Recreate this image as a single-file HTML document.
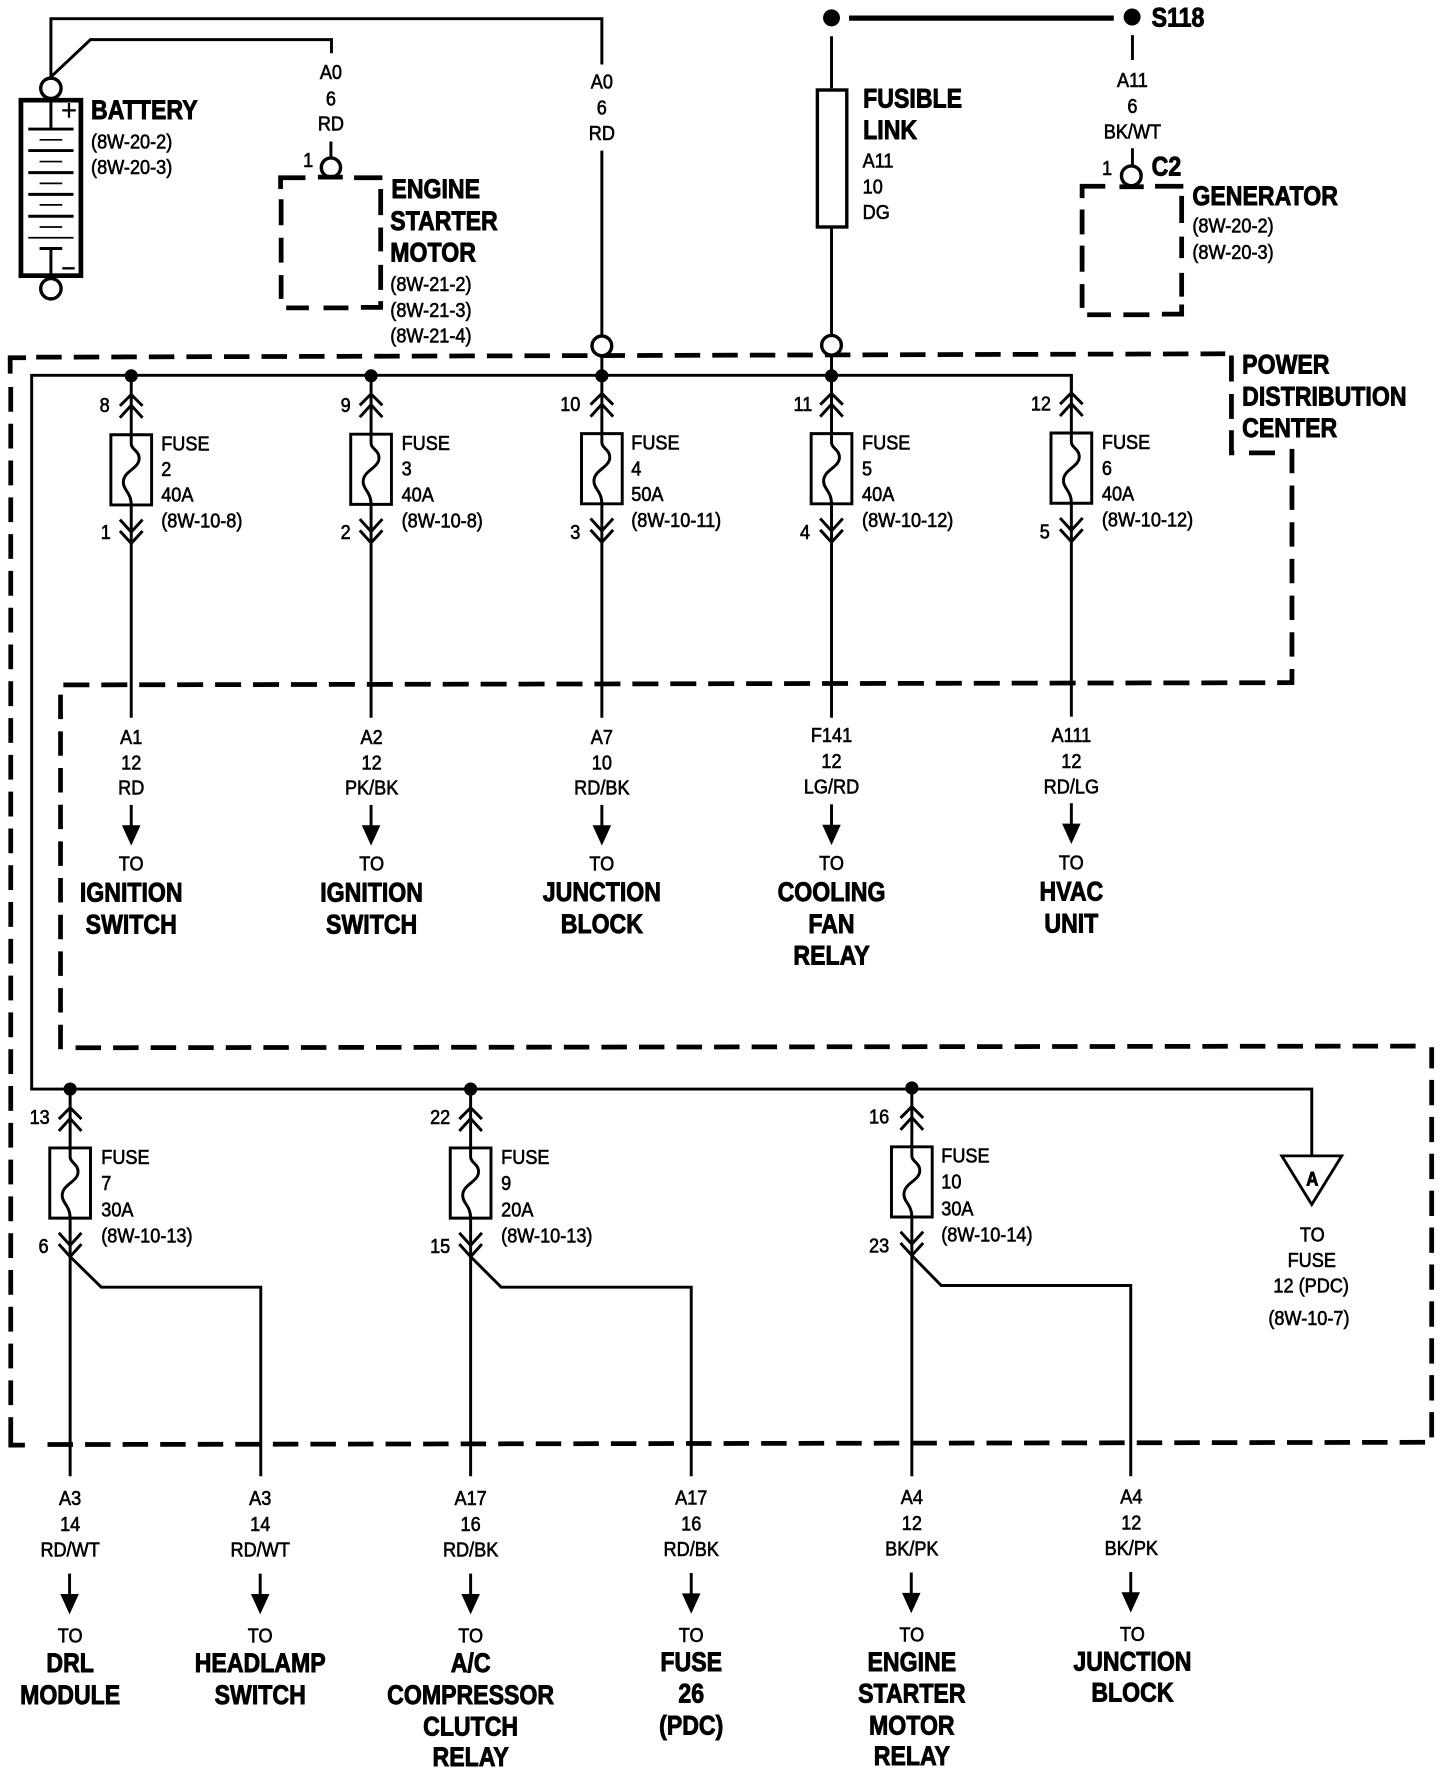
<!DOCTYPE html>
<html><head><meta charset="utf-8"><style>
html,body{margin:0;padding:0;background:#fff}
svg{display:block}
text{font-family:"Liberation Sans",sans-serif;fill:#000;transform-box:fill-box}
.s{font-size:17.8px;stroke:#000;stroke-width:.55;transform:scaleX(.9)}
.b{font-size:23.5px;font-weight:bold;stroke:#000;stroke-width:.8;transform:scaleX(.87)}
.c{text-anchor:middle;transform-origin:center}
.l{transform-origin:left center}
.r{text-anchor:end;transform-origin:right center}
.w{fill:none;stroke:#000;stroke-width:2.6}
.d{fill:none;stroke:#000;stroke-width:4.2}
</style></head><body>
<svg xmlns="http://www.w3.org/2000/svg" width="1456" height="1774" viewBox="0 0 1287 1567" preserveAspectRatio="none">
<defs>
<g id="fu" class="w">
<path d="M0 0V52M-18 52H18V114H-18ZM0 52V60C0 65 7 66 7 73C7 82 -7 84 -7 94C-7 101 0 103 0 114V148"/>
<path d="M-10 26.5L0 16.5L10 26.5M-10 37L0 26L10 37M-10 127L0 138L10 127M-10 137L0 148L10 137"/>
</g>
<g id="ar"><path d="M0 0V19" class="w"/><path d="M-8.2 18H8.2L0 36Z" fill="#000"/></g>
</defs>
<rect width="1287" height="1567" fill="#fff"/>

<!-- top wires -->
<path class="w" d="M45 68V16.5H532V57M532 133V296M45 68L80 35H293V47M292.5 125V139"/>
<!-- battery -->
<rect x="18.5" y="88.5" width="53" height="155" fill="#fff" stroke="#000" stroke-width="4"/>
<circle cx="45" cy="78" r="9" fill="#fff" stroke="#000" stroke-width="3"/>
<circle cx="45" cy="255" r="9" fill="#fff" stroke="#000" stroke-width="3"/>
<rect x="18.5" y="88.5" width="53" height="155" fill="none" stroke="#000" stroke-width="4"/>
<path class="w" d="M45 88V114M25 114H65M25 133H65M25 152.5H65M25 171.7H65M25 191H65M35 219.5H55M45 219.5V245"/>
<path fill="none" stroke="#000" stroke-width="1.5" d="M35 123.5H55M35 142.7H55M35 162H55M35 181H55M35 200.5H55M25 210H65"/>
<path fill="none" stroke="#000" stroke-width="2" d="M61 91V104M55 97.5H67M55 237H66"/>
<text class="b l" x="80.5" y="105">BATTERY</text>
<text class="s l" x="80.5" y="131">(8W-20-2)</text>
<text class="s l" x="80.5" y="153.5">(8W-20-3)</text>

<!-- starter -->
<text class="s c" x="292.5" y="70">A0</text><text class="s c" x="292.5" y="93">6</text><text class="s c" x="292.5" y="115.5">RD</text>
<text class="s l" x="268" y="147.5">1</text>
<circle cx="292.5" cy="148" r="8.5" fill="#fff" stroke="#000" stroke-width="3"/>
<path class="d" d="M281 156.5H303M248 167V157H270M313 157H338M336.5 167V190M336.5 201V222M336.5 234V256M336.5 266V271.5H319M308 272H286M273 272H253M248.5 176V199M248.5 210V232M248.5 243V264"/>
<text class="b l" x="346" y="175">ENGINE</text><text class="b l" x="345" y="203">STARTER</text><text class="b l" x="345" y="231">MOTOR</text>
<text class="s l" x="345" y="257">(8W-21-2)</text><text class="s l" x="345" y="280">(8W-21-3)</text><text class="s l" x="345" y="302.5">(8W-21-4)</text>
<text class="s c" x="532" y="78">A0</text><text class="s c" x="532" y="101">6</text><text class="s c" x="532" y="123.5">RD</text>

<!-- fusible link / S118 -->
<circle cx="735" cy="15.8" r="7.5" fill="#000"/>
<circle cx="1000.7" cy="15" r="7.5" fill="#000"/>
<path stroke="#000" stroke-width="4.6" d="M750.5 16H984.5"/>
<text class="b l" x="1018" y="23.5">S118</text>
<path class="w" d="M735 32V78M735 201V296M1001 31V53M1001 131V146"/>
<rect x="722.5" y="79.5" width="26" height="121" fill="#fff" stroke="#000" stroke-width="3"/>
<text class="b l" x="763" y="95">FUSIBLE</text><text class="b l" x="763" y="123">LINK</text>
<text class="s l" x="762.5" y="148">A11</text><text class="s l" x="762.5" y="171">10</text><text class="s l" x="762.5" y="193.5">DG</text>
<text class="s c" x="1001" y="77">A11</text><text class="s c" x="1001" y="100">6</text><text class="s c" x="1001" y="122.5">BK/WT</text>
<text class="s r" x="983" y="154.5">1</text>
<text class="b l" x="1018" y="155">C2</text>
<circle cx="1000" cy="155.3" r="8.7" fill="#fff" stroke="#000" stroke-width="3"/>
<path class="d" d="M989.5 165H1011M956.5 175V164.5H977M1021 164.5H1046M1044.5 173V197M1044.5 209V228M1044.5 241V262M1044.5 269V277.5H1027M1016 278H993M982 278H961M956.5 185V207M956.5 217V240M956.5 251V272"/>
<text class="b l" x="1054" y="181">GENERATOR</text>
<text class="s l" x="1054" y="205.5">(8W-20-2)</text><text class="s l" x="1054" y="229">(8W-20-3)</text>

<!-- PDC dashed -->
<path class="d" d="M9 330V316H23"/>
<path class="d" stroke-dasharray="22.5 10.7" d="M32 315.5L1083 312.5"/>
<path class="d" d="M1088.5 314V337M1088.5 348V370M1088.5 380V400H1091M1104 400H1127"/>
<path class="d" stroke-dasharray="21.5 10.9" d="M1142 396.5V605"/>
<path class="d" stroke-dasharray="23 10.53" d="M56 605L1143 603"/>
<path class="d" stroke-dasharray="21.6 10.8" d="M53.5 613.6V928"/>
<path class="d" stroke-dasharray="22.5 10.7" d="M66.8 925.5L1252 924"/>
<path class="d" stroke-dasharray="22.4 10.2" d="M1265.5 1269.7V925"/>
<path class="d" stroke-dasharray="22.5 10.7" d="M42 1276L1260 1274"/>
<path class="d" stroke-dasharray="21.9 10.6" d="M9.5 341.8V1252"/>
<path class="d" d="M9.5 1252V1276.5H22"/>
<text class="b l" x="1098" y="330">POWER</text><text class="b l" x="1098" y="358">DISTRIBUTION</text><text class="b l" x="1098" y="386">CENTER</text>

<circle cx="532" cy="305.5" r="8.7" fill="#fff" stroke="#000" stroke-width="3"/>
<circle cx="735" cy="305" r="8.7" fill="#fff" stroke="#000" stroke-width="3"/>
<path class="w" d="M532 314V332M735 314V332"/>

<!-- buses -->
<path class="w" d="M947 345V331.5H28V962H1159.5V1020"/>
<g fill="#000"><circle cx="116" cy="332" r="5.8"/><circle cx="328" cy="332" r="5.8"/><circle cx="532" cy="332" r="5.8"/><circle cx="735" cy="332" r="5.8"/>
<circle cx="62" cy="962" r="5.8"/><circle cx="416" cy="962" r="5.8"/><circle cx="806" cy="961" r="5.8"/></g>

<!-- upper fuses -->
<use href="#fu" x="116" y="332"/><use href="#fu" x="328" y="331.5"/><use href="#fu" x="532" y="331"/><use href="#fu" x="735" y="331"/><use href="#fu" x="947" y="330.5"/>
<path class="w" d="M116 480V634M328 480V634M532 479V634M735 479V634M947 478V633"/>

<text class="s r" x="97" y="364">8</text><text class="s r" x="98" y="476">1</text>
<text class="s l" x="142.5" y="398">FUSE</text><text class="s l" x="142.5" y="420.5">2</text><text class="s l" x="142.5" y="443">40A</text><text class="s l" x="142.5" y="466">(8W-10-8)</text>
<text class="s r" x="310" y="364">9</text><text class="s r" x="310" y="476">2</text>
<text class="s l" x="355" y="397.5">FUSE</text><text class="s l" x="355" y="420">3</text><text class="s l" x="355" y="443">40A</text><text class="s l" x="355" y="466">(8W-10-8)</text>
<text class="s r" x="513" y="363">10</text><text class="s r" x="513" y="476">3</text>
<text class="s l" x="558" y="397">FUSE</text><text class="s l" x="558" y="420">4</text><text class="s l" x="558" y="442.5">50A</text><text class="s l" x="558" y="465.5">(8W-10-11)</text>
<text class="s r" x="718" y="363">11</text><text class="s r" x="716" y="476">4</text>
<text class="s l" x="762" y="397">FUSE</text><text class="s l" x="762" y="420">5</text><text class="s l" x="762" y="442.5">40A</text><text class="s l" x="762" y="465.5">(8W-10-12)</text>
<text class="s r" x="929" y="362.5">12</text><text class="s r" x="928" y="475.5">5</text>
<text class="s l" x="974" y="396.5">FUSE</text><text class="s l" x="974" y="419.5">6</text><text class="s l" x="974" y="442">40A</text><text class="s l" x="974" y="465">(8W-10-12)</text>

<!-- upper destinations -->
<g class="up">
<text class="s c" x="116" y="657">A1</text><text class="s c" x="116" y="679.5">12</text><text class="s c" x="116" y="702">RD</text>
<use href="#ar" x="116" y="711"/>
<text class="s c" x="116" y="769">TO</text><text class="b c" x="116" y="796.5">IGNITION</text><text class="b c" x="116" y="824.5">SWITCH</text>
<text class="s c" x="328.5" y="657">A2</text><text class="s c" x="328.5" y="679.5">12</text><text class="s c" x="328.5" y="702">PK/BK</text>
<use href="#ar" x="328" y="711"/>
<text class="s c" x="328.5" y="769">TO</text><text class="b c" x="328.5" y="796.5">IGNITION</text><text class="b c" x="328.5" y="824.5">SWITCH</text>
<text class="s c" x="532" y="657">A7</text><text class="s c" x="532" y="679.5">10</text><text class="s c" x="532" y="702">RD/BK</text>
<use href="#ar" x="532" y="711"/>
<text class="s c" x="532" y="769">TO</text><text class="b c" x="532" y="796">JUNCTION</text><text class="b c" x="532" y="824">BLOCK</text>
<text class="s c" x="735" y="655.5">F141</text><text class="s c" x="735" y="678.5">12</text><text class="s c" x="735" y="701">LG/RD</text>
<use href="#ar" x="735" y="710.5"/>
<text class="s c" x="735" y="768.5">TO</text><text class="b c" x="735" y="796">COOLING</text><text class="b c" x="735" y="824">FAN</text><text class="b c" x="735" y="852">RELAY</text>
<text class="s c" x="947" y="655.5">A111</text><text class="s c" x="947" y="678.5">12</text><text class="s c" x="947" y="701">RD/LG</text>
<use href="#ar" x="947" y="709.5"/>
<text class="s c" x="947" y="768">TO</text><text class="b c" x="947" y="795.5">HVAC</text><text class="b c" x="947" y="823.5">UNIT</text>
</g>

<!-- lower fuses -->
<use href="#fu" x="62" y="962"/><use href="#fu" x="416" y="962"/><use href="#fu" x="806" y="961"/>
<path class="w" d="M62 1110V1304M62 1110L89.5 1137H230.5V1304M416 1110V1304M416 1110L443 1137H611V1304M806 1109V1304M806 1109L832 1135.5H999.5V1304"/>

<text class="s r" x="44" y="993">13</text><text class="s r" x="43" y="1107">6</text>
<text class="s l" x="89.5" y="1028">FUSE</text><text class="s l" x="89.5" y="1051">7</text><text class="s l" x="89.5" y="1074.5">30A</text><text class="s l" x="89.5" y="1097.5">(8W-10-13)</text>
<text class="s r" x="398" y="993">22</text><text class="s r" x="398" y="1107">15</text>
<text class="s l" x="443" y="1028">FUSE</text><text class="s l" x="443" y="1051">9</text><text class="s l" x="443" y="1074.5">20A</text><text class="s l" x="443" y="1097.5">(8W-10-13)</text>
<text class="s r" x="786" y="992.5">16</text><text class="s r" x="786" y="1106.5">23</text>
<text class="s l" x="832" y="1027">FUSE</text><text class="s l" x="832" y="1050">10</text><text class="s l" x="832" y="1073.5">30A</text><text class="s l" x="832" y="1096.5">(8W-10-14)</text>

<path fill="#fff" stroke="#000" stroke-width="2.5" d="M1133 1021H1186L1159.5 1064Z"/>
<text class="b c" x="1160" y="1047" style="font-size:17px">A</text>
<text class="s c" x="1160" y="1096.5">TO</text><text class="s c" x="1159.5" y="1119">FUSE</text><text class="s c" x="1159" y="1141.5">12 (PDC)</text><text class="s c" x="1157" y="1170.5">(8W-10-7)</text>

<!-- lower destinations -->
<text class="s c" x="62" y="1329.5">A3</text><text class="s c" x="62" y="1352.5">14</text><text class="s c" x="62" y="1375">RD/WT</text>
<use href="#ar" x="61.5" y="1390"/>
<text class="s c" x="62" y="1451">TO</text><text class="b c" x="62" y="1477">DRL</text><text class="b c" x="62" y="1505">MODULE</text>
<text class="s c" x="230" y="1329.5">A3</text><text class="s c" x="230" y="1352.5">14</text><text class="s c" x="230" y="1375">RD/WT</text>
<use href="#ar" x="230" y="1390"/>
<text class="s c" x="230" y="1451">TO</text><text class="b c" x="230" y="1477">HEADLAMP</text><text class="b c" x="230" y="1505">SWITCH</text>
<text class="s c" x="416" y="1329.5">A17</text><text class="s c" x="416" y="1352.5">16</text><text class="s c" x="416" y="1375">RD/BK</text>
<use href="#ar" x="416" y="1390"/>
<text class="s c" x="416" y="1451">TO</text><text class="b c" x="416" y="1477">A/C</text><text class="b c" x="416" y="1505">COMPRESSOR</text><text class="b c" x="416" y="1533">CLUTCH</text><text class="b c" x="416" y="1560">RELAY</text>
<text class="s c" x="611" y="1329">A17</text><text class="s c" x="611" y="1352">16</text><text class="s c" x="611" y="1374.5">RD/BK</text>
<use href="#ar" x="611" y="1389.5"/>
<text class="s c" x="611" y="1450.5">TO</text><text class="b c" x="611" y="1476">FUSE</text><text class="b c" x="611" y="1504">26</text><text class="b c" x="611" y="1532">(PDC)</text>
<text class="s c" x="806" y="1328.5">A4</text><text class="s c" x="806" y="1351.5">12</text><text class="s c" x="806" y="1374">BK/PK</text>
<use href="#ar" x="805.5" y="1389"/>
<text class="s c" x="806" y="1450">TO</text><text class="b c" x="806" y="1476">ENGINE</text><text class="b c" x="806" y="1504">STARTER</text><text class="b c" x="806" y="1532">MOTOR</text><text class="b c" x="806" y="1559">RELAY</text>
<text class="s c" x="1000" y="1328">A4</text><text class="s c" x="1000" y="1351">12</text><text class="s c" x="1000" y="1373.5">BK/PK</text>
<use href="#ar" x="999.5" y="1388.5"/>
<text class="s c" x="1001" y="1449.5">TO</text><text class="b c" x="1001" y="1475.5">JUNCTION</text><text class="b c" x="1001" y="1503">BLOCK</text>
</svg>
</body></html>
